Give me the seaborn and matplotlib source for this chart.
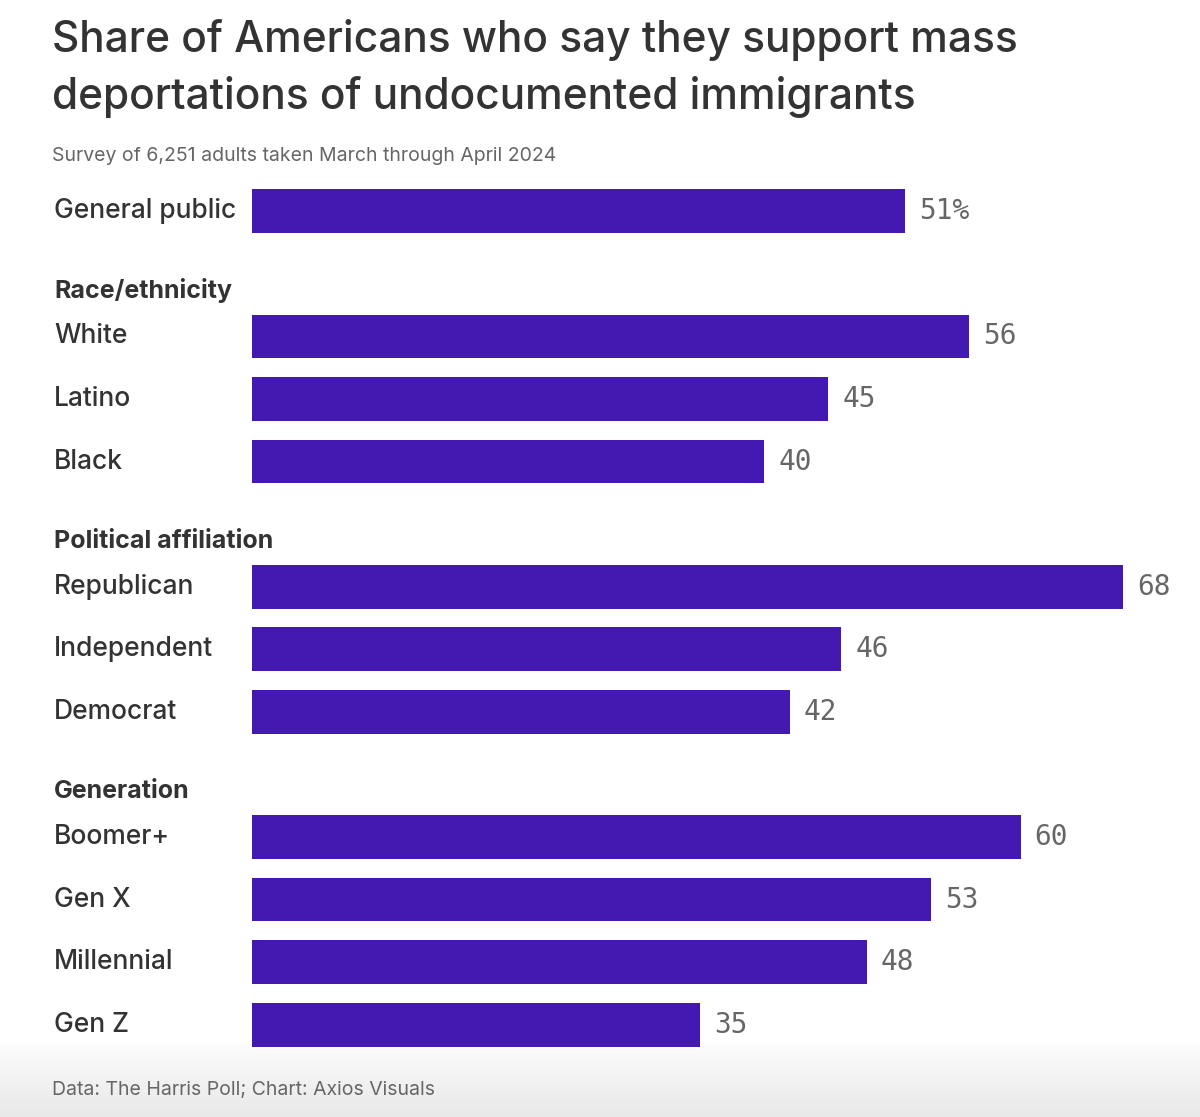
import numpy as np
import pandas as pd
import seaborn as sns
import matplotlib.pyplot as plt
from matplotlib.colors import LinearSegmentedColormap
from matplotlib.transforms import blended_transform_factory

# data
groups = ["", "Race/ethnicity", "Race/ethnicity", "Race/ethnicity",
          "Political affiliation", "Political affiliation", "Political affiliation",
          "Generation", "Generation", "Generation", "Generation"]
labels = ["General public", "White", "Latino", "Black",
          "Republican", "Independent", "Democrat",
          "Boomer+", "Gen X", "Millennial", "Gen Z"]
values = [51, 56, 45, 40, 68, 46, 42, 60, 53, 48, 35]

title_lines = ["Share of Americans who say they support mass",
               "deportations of undocumented immigrants"]
subtitle = "Survey of 6,251 adults taken March through April 2024"
source = "Data: The Harris Poll; Chart: Axios Visuals"

bar_color = "#4319b2"
text_color = "#333333"
grey = "#666666"

# row positions: one empty slot before each new group for its header
pos = []
headers = []
row = 0
prev = None
for i, g in enumerate(groups):
    if i > 0 and g != prev:
        row += 1
        headers.append((g, row + 0.27))
        row += 1
    elif i > 0:
        row += 1
    pos.append(row)
    prev = g

df = pd.DataFrame({"label": labels, "value": values, "pos": pos, "group": groups})

sns.set_style("white")
plt.rcParams["font.family"] = ["Inter", "DejaVu Sans"]

W, H = 1200, 1117
fig = plt.figure(figsize=(W / 100, H / 100), dpi=100)

# soft grey footer band, fading in from white
bg = fig.add_axes([0, 0, 1, 75 / H], zorder=0)
fade = LinearSegmentedColormap.from_list("fade", ["#ffffff", "#e9e9e9"])
grad = np.linspace(0, 1, 100).reshape(-1, 1) ** 0.8
bg.imshow(grad, aspect="auto", cmap=fade, vmin=0, vmax=1, extent=[0, 1, 0, 1])
bg.axis("off")

px = 12.81  # pixels per percentage point
left = 252
ax = fig.add_axes([left / W, 1 - 1056 / H, 1 - left / W, (1056 - 180) / H], zorder=1)
ax.patch.set_alpha(0)
sns.barplot(data=df, x="value", y="pos", orient="h", native_scale=True,
            color=bar_color, saturation=1, width=0.7, linewidth=0, ax=ax)
ax.set_xlim(0, (W - left) / px)
ax.set_ylim(13.5, -0.5)
ax.axis("off")

tr = blended_transform_factory(fig.transFigure, ax.transData)
for lab, v, p in zip(labels, values, pos):
    ax.text(54 / W, p, lab, transform=tr, ha="left", va="center",
            fontsize=19, fontweight="medium", color=text_color)
    txt = f"{v}%" if p == 0 else f"{v}"
    ax.annotate(txt, (v, p), xytext=(10, 0), textcoords="offset points",
                ha="left", va="center", fontsize=20, color=grey,
                family="DejaVu Sans Mono")
for g, p in headers:
    ax.text(54 / W, p, g, transform=tr, ha="left", va="center",
            fontsize=18, fontweight="bold", color=text_color)

fig.text(52 / W, 1 - 52 / H, title_lines[0], fontsize=30.5, fontweight="medium",
         color=text_color, va="baseline")
fig.text(52 / W, 1 - 109 / H, title_lines[1], fontsize=30.5, fontweight="medium",
         color=text_color, va="baseline")
fig.text(52 / W, 1 - 161 / H, subtitle, fontsize=14, color=grey, va="baseline")
fig.text(52 / W, 1 - 1095 / H, source, fontsize=14, color=grey, va="baseline")

fig.savefig("out.png", dpi=100)
